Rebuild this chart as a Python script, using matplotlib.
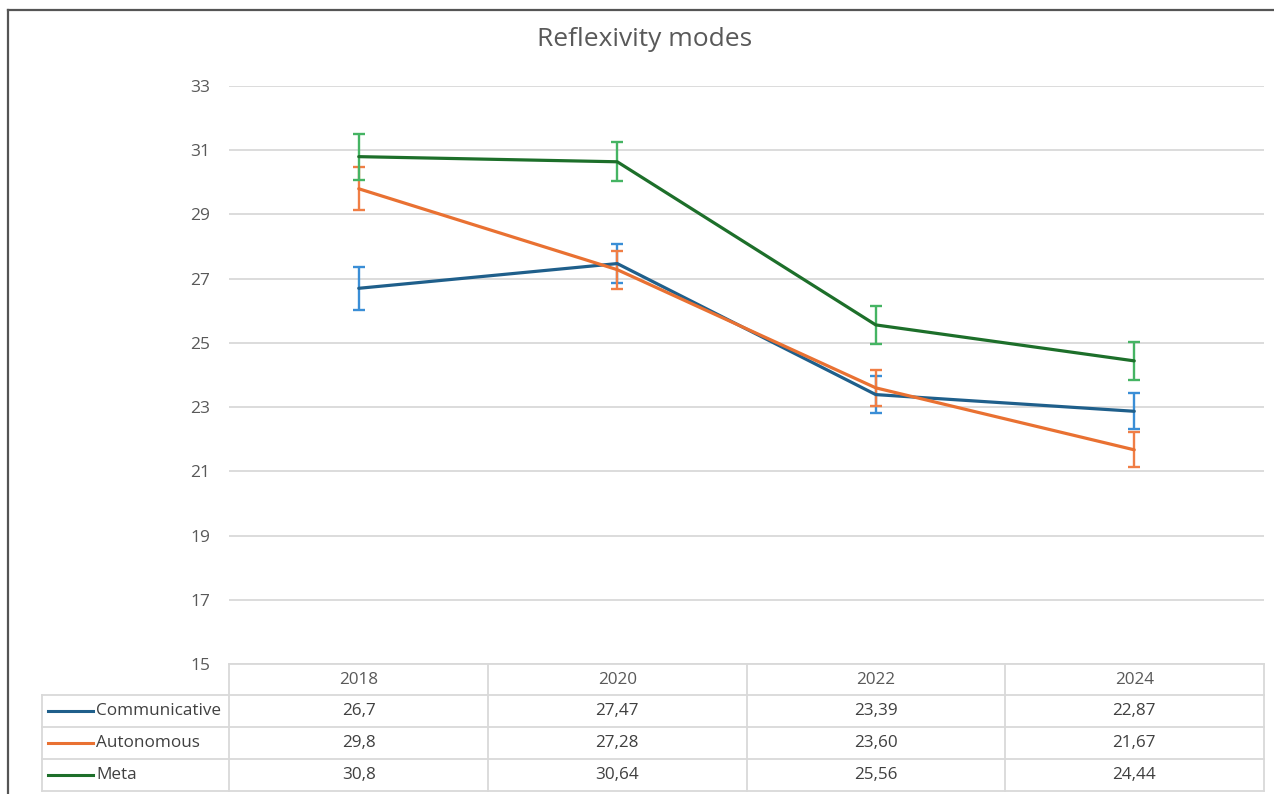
import matplotlib
matplotlib.use("Agg")
import matplotlib.pyplot as plt
from matplotlib.lines import Line2D
import numpy as np

plt.rcParams['font.family'] = ['Open Sans', 'DejaVu Sans']

years = ["2018", "2020", "2022", "2024"]
series_names = ["Communicative", "Autonomous", "Meta"]
communicative = [26.7, 27.47, 23.39, 22.87]
autonomous = [29.8, 27.28, 23.60, 21.67]
meta = [30.8, 30.64, 25.56, 24.44]
communicative_err = [0.67, 0.60, 0.57, 0.56]
autonomous_err = [0.67, 0.59, 0.57, 0.54]
meta_err = [0.72, 0.61, 0.60, 0.60]
col_decimals = [1, 2, 2, 2]
yticks = [15, 17, 19, 21, 23, 25, 27, 29, 31, 33]

values = [communicative, autonomous, meta]
errors = [communicative_err, autonomous_err, meta_err]
line_colors = ["#1F5F8B", "#E97132", "#1D6F2A"]
err_colors = ["#3A8ED6", "#F07E45", "#45B463"]

W, H = 1274, 794
fig = plt.figure(figsize=(W / 100, H / 100), dpi=100)
fig.patch.set_facecolor("white")

def fx(px):
    return px / W

def fy(py):
    return 1 - py / H

ax_left, ax_right, ax_top, ax_bot = 229.5, 1263.5, 86, 664
ax = fig.add_axes([fx(ax_left), fy(ax_bot), fx(ax_right - ax_left), (ax_bot - ax_top) / H])
x = np.arange(len(years))
ax.set_xlim(-0.5, len(years) - 0.5)
ax.set_ylim(yticks[0], yticks[-1])
ax.set_yticks(yticks)
ax.set_yticklabels([str(t) for t in yticks])
ax.tick_params(axis="y", length=0, pad=14, labelsize=12.5, labelcolor="#595959")
ax.set_xticks([])
for s in ax.spines.values():
    s.set_visible(False)
ax.grid(axis="y", color="#D9D9D9", lw=1.3)
ax.set_axisbelow(True)

for vals, errs, lc, ec in zip(values, errors, line_colors, err_colors):
    ax.errorbar(x, vals, yerr=errs, fmt="none", ecolor=ec, elinewidth=1.7,
                capsize=4.5, capthick=1.7, zorder=3)
    ax.plot(x, vals, color=lc, lw=2.3, zorder=4, solid_capstyle="round")

# Title
fig.text(fx(645), fy(40), "Reflexivity modes", ha="center", va="center",
         fontsize=19, color="#595959")

# Border (top and left)
grid_c = "#D9D9D9"
fig.add_artist(Line2D([fx(8), fx(W)], [fy(10), fy(10)], color="#555555", lw=1.6))
fig.add_artist(Line2D([fx(8), fx(8)], [fy(10), fy(H)], color="#555555", lw=1.6))

# Data table
row_y = [664, 695, 727, 759, 791]
col_x = [ax_left + i * (ax_right - ax_left) / len(years) for i in range(len(years) + 1)]
legend_left = 42
fig.add_artist(Line2D([fx(ax_left), fx(ax_right)], [fy(row_y[0])] * 2, color=grid_c, lw=1.3))
for ry in row_y[1:]:
    fig.add_artist(Line2D([fx(legend_left), fx(ax_right)], [fy(ry)] * 2, color=grid_c, lw=1.3))
for cx in col_x:
    fig.add_artist(Line2D([fx(cx)] * 2, [fy(row_y[0]), fy(row_y[-1])], color=grid_c, lw=1.3))
fig.add_artist(Line2D([fx(legend_left)] * 2, [fy(row_y[1]), fy(row_y[-1])], color=grid_c, lw=1.3))

for j, yr in enumerate(years):
    cx = (col_x[j] + col_x[j + 1]) / 2
    fig.text(fx(cx), fy((row_y[0] + row_y[1]) / 2), yr, ha="center", va="center",
             fontsize=12.3, color="#595959")

for i, (name, vals, lc) in enumerate(zip(series_names, values, line_colors)):
    cy = (row_y[i + 1] + row_y[i + 2]) / 2
    fig.add_artist(Line2D([fx(48), fx(93)], [fy(cy)] * 2, color=lc, lw=2.2))
    fig.text(fx(96), fy(cy), name, ha="left", va="center", fontsize=12.3, color="#404040")
    for j, v in enumerate(vals):
        cx = (col_x[j] + col_x[j + 1]) / 2
        s = f"{v:.{col_decimals[j]}f}".replace(".", ",")
        fig.text(fx(cx), fy(cy), s, ha="center", va="center", fontsize=12.3, color="#404040")

fig.savefig("out.png", dpi=100, facecolor="white")
